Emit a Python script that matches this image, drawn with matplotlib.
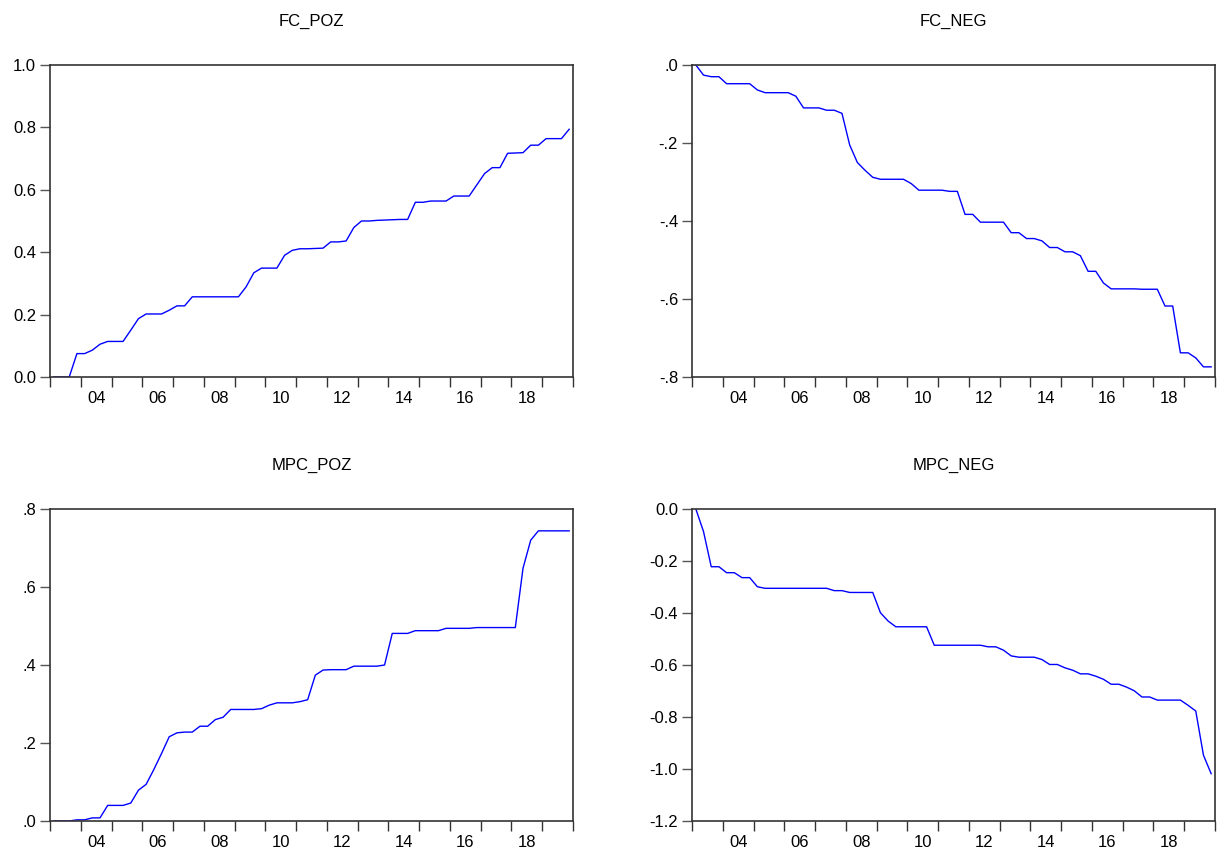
import numpy as np
import matplotlib
matplotlib.use("Agg")
import matplotlib.pyplot as plt
from matplotlib.ticker import FixedLocator, NullFormatter

plt.rcParams["font.family"] = ["Liberation Sans", "DejaVu Sans"]

# quarterly observations 2003Q1 .. 2019Q4
start_year = 2003
n_obs = 68

fc_poz = [0.0, 0.0, 0.0, 0.075, 0.075, 0.086, 0.105, 0.114, 0.114, 0.114,
          0.15, 0.187, 0.202, 0.202, 0.202, 0.214, 0.228, 0.228, 0.257, 0.257,
          0.257, 0.257, 0.257, 0.257, 0.257, 0.289, 0.334, 0.349, 0.349, 0.349,
          0.39, 0.406, 0.411, 0.411, 0.412, 0.413, 0.433, 0.433, 0.436, 0.479,
          0.5, 0.5, 0.502, 0.503, 0.504, 0.505, 0.505, 0.56, 0.56, 0.564,
          0.564, 0.564, 0.58, 0.58, 0.58, 0.616, 0.652, 0.671, 0.671, 0.717,
          0.718, 0.719, 0.743, 0.743, 0.764, 0.764, 0.764, 0.794]

fc_neg = [0.0, -0.026, -0.03, -0.03, -0.048, -0.048, -0.048, -0.048, -0.064, -0.071,
          -0.071, -0.071, -0.071, -0.08, -0.11, -0.11, -0.11, -0.116, -0.116, -0.124,
          -0.205, -0.25, -0.27, -0.288, -0.293, -0.293, -0.293, -0.293, -0.304, -0.321,
          -0.321, -0.321, -0.321, -0.324, -0.324, -0.383, -0.383, -0.403, -0.403, -0.403,
          -0.403, -0.43, -0.43, -0.445, -0.445, -0.451, -0.468, -0.468, -0.479, -0.479,
          -0.489, -0.529, -0.529, -0.559, -0.574, -0.574, -0.574, -0.574, -0.575, -0.575,
          -0.575, -0.618, -0.618, -0.738, -0.738, -0.751, -0.774, -0.774]

mpc_poz = [0.0, 0.0, 0.0, 0.003, 0.003, 0.008, 0.008, 0.04, 0.04, 0.04,
           0.046, 0.079, 0.094, 0.132, 0.173, 0.216, 0.226, 0.228, 0.228, 0.243,
           0.243, 0.26, 0.266, 0.286, 0.286, 0.286, 0.286, 0.288, 0.297, 0.303,
           0.303, 0.303, 0.306, 0.311, 0.374, 0.387, 0.388, 0.388, 0.388, 0.397,
           0.397, 0.397, 0.397, 0.4, 0.481, 0.481, 0.481, 0.488, 0.488, 0.488,
           0.488, 0.494, 0.494, 0.494, 0.494, 0.496, 0.496, 0.496, 0.496, 0.496,
           0.496, 0.648, 0.72, 0.744, 0.744, 0.744, 0.744, 0.744]

mpc_neg = [0.0, -0.087, -0.222, -0.222, -0.245, -0.245, -0.264, -0.264, -0.299, -0.305,
           -0.305, -0.305, -0.305, -0.305, -0.305, -0.305, -0.305, -0.305, -0.314, -0.314,
           -0.321, -0.321, -0.321, -0.321, -0.399, -0.431, -0.453, -0.453, -0.453, -0.453,
           -0.453, -0.524, -0.524, -0.524, -0.524, -0.524, -0.524, -0.524, -0.53, -0.53,
           -0.543, -0.565, -0.57, -0.57, -0.57, -0.579, -0.598, -0.598, -0.611, -0.62,
           -0.634, -0.634, -0.643, -0.655, -0.674, -0.674, -0.685, -0.699, -0.723, -0.723,
           -0.735, -0.735, -0.735, -0.735, -0.755, -0.777, -0.947, -1.018]

titles = ["FC_POZ", "FC_NEG", "MPC_POZ", "MPC_NEG"]
series = [fc_poz, fc_neg, mpc_poz, mpc_neg]
yticks = [[0.0, 0.2, 0.4, 0.6, 0.8, 1.0],
          [-0.8, -0.6, -0.4, -0.2, 0.0],
          [0.0, 0.2, 0.4, 0.6, 0.8],
          [-1.2, -1.0, -0.8, -0.6, -0.4, -0.2, 0.0]]
ylabels = [["0.0", "0.2", "0.4", "0.6", "0.8", "1.0"],
           ["-.8", "-.6", "-.4", "-.2", ".0"],
           [".0", ".2", ".4", ".6", ".8"],
           ["-1.2", "-1.0", "-0.8", "-0.6", "-0.4", "-0.2", "0.0"]]
year_labels = ["04", "06", "08", "10", "12", "14", "16", "18"]

W, H = 1227, 851
fig = plt.figure(figsize=(W / 100, H / 100), dpi=100)

# panel frames in pixels: left, top, width, height
boxes = [(50, 65, 523, 312), (692, 65, 523, 312),
         (50, 509, 523, 312), (692, 509, 523, 312)]

x = start_year + np.arange(n_obs) * 0.25 + 0.125

for (l, t, w, h), title, y, yt, yl in zip(boxes, titles, series, yticks, ylabels):
    ax = fig.add_axes([l / W, 1 - (t + h) / H, w / W, h / H])
    ax.plot(x, y, color="#0000ff", lw=1.0)
    ax.set_xlim(2003, 2020)
    ax.set_ylim(yt[0], yt[-1])
    ax.set_yticks(yt)
    ax.set_yticklabels(yl)
    ax.xaxis.set_major_locator(FixedLocator(np.arange(2003, 2021)))
    ax.xaxis.set_major_formatter(NullFormatter())
    ax.xaxis.set_minor_locator(FixedLocator(np.arange(2004.5, 2019, 2)))
    ax.set_xticklabels(year_labels, minor=True)
    ax.tick_params(axis="x", which="major", direction="out", length=7, width=1, color="#333333")
    ax.tick_params(axis="x", which="minor", length=0, pad=10, labelsize=12)
    ax.tick_params(axis="y", direction="out", length=7, width=1, color="#555555",
                   pad=3, labelsize=12)
    for s in ax.spines.values():
        s.set_linewidth(1.2)
        s.set_color("#333333")
    ax.set_title(title, fontsize=12, pad=28)

fig.savefig("out.png", dpi=100)
